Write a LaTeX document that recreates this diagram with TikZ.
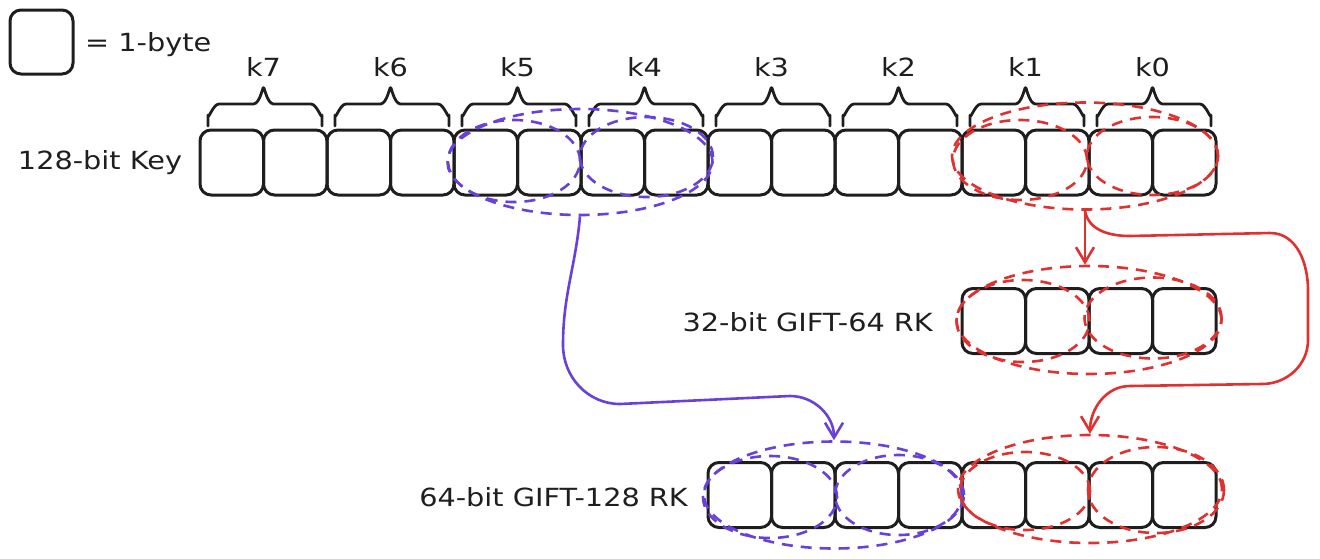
\documentclass[tikz,border=0pt]{standalone}
\usepackage{fontspec}
\setmainfont[FakeStretch=1.15]{DejaVu Sans}
\usetikzlibrary{shapes.geometric,arrows.meta}
\definecolor{ink}{HTML}{1E1E1E}
\definecolor{vio}{HTML}{6741D9}
\definecolor{rd}{HTML}{E03131}
\tikzset{
  byte/.style={draw=ink,line width=3pt,rounded corners=11pt,minimum width=63.5pt,minimum height=65pt,inner sep=0pt},
  ring/.style={ellipse,line width=2.6pt,dash pattern=on 11pt off 8pt,inner sep=0pt,draw},
  lbl/.style={text=ink,font=\fontsize{25}{30}\selectfont,inner sep=0pt},
  brc/.style={draw=ink,line width=2.8pt,line cap=round,line join=round},
  conn/.style={line width=2.6pt,-{Straight Barb[length=15pt,width=18pt,line width=2.6pt]}}
}
\begin{document}
\begin{tikzpicture}[x=1pt,y=-1pt]
\useasboundingbox (0,0) rectangle (1320,558);
% legend
\node[byte,minimum width=63pt,minimum height=64pt] (legend) at (41.5,42) {};
\node[lbl,anchor=west] (legtxt) at (85,45) {= 1-byte};
% top row
\foreach \i in {1,...,16}{
  \node[byte] (t\i) at ({200+63.5*(\i-0.5)},162.5) {};
}
\node[lbl] (keylbl) at (100,163) {128-bit Key};
% braces and labels
\foreach \j/\name in {0/k7,1/k6,2/k5,3/k4,4/k3,5/k2,6/k1,7/k0}{
  \pgfmathsetmacro{\xa}{200+127*\j+8}
  \pgfmathsetmacro{\xb}{200+127*\j+122}
  \pgfmathsetmacro{\xc}{200+127*\j+63.5}
  \draw[brc] (\xa,126) -- (\xa,115) to[out=-90,in=180] (\xa+11,104) -- (\xc-10,104) to[out=0,in=90] (\xc,89)
             to[out=90,in=180] (\xc+10,104) -- (\xb-11,104) to[out=0,in=-90] (\xb,115) -- (\xb,126);
  \node[lbl] (lab\name) at (\xc,67) {\name};
}
% middle row
\foreach \i in {1,...,4}{
  \node[byte] (m\i) at ({962+63.5*(\i-0.5)},321) {};
}
\node[lbl,anchor=east] (midlbl) at (933,322) {32-bit GIFT-64 RK};
% bottom row
\foreach \i in {1,...,8}{
  \node[byte] (b\i) at ({708+63.5*(\i-0.5)},495) {};
}
\node[lbl,anchor=east] (botlbl) at (688,497) {64-bit GIFT-128 RK};
% purple rings top
\node[ring,draw=vio,minimum width=132pt,minimum height=82pt] (pA) at (514,161) {};
\node[ring,draw=vio,minimum width=133pt,minimum height=80pt] (pB) at (646.5,157) {};
\node[ring,draw=vio,minimum width=265pt,minimum height=106pt] (pTop) at (580,162) {};
% red rings top
\node[ring,draw=rd,minimum width=134pt,minimum height=80pt] (rA) at (1020,160) {};
\node[ring,draw=rd,minimum width=131pt,minimum height=78pt] (rB) at (1152.5,156) {};
\node[ring,draw=rd,minimum width=266pt,minimum height=107pt] (rTop) at (1085,156) {};
% red rings middle
\node[ring,draw=rd,minimum width=133pt,minimum height=82pt] (rmA) at (1023,321) {};
\node[ring,draw=rd,minimum width=137pt,minimum height=81pt] (rmB) at (1153,318) {};
\node[ring,draw=rd,minimum width=265pt,minimum height=108pt] (rMid) at (1089,320) {};
% purple rings bottom
\node[ring,draw=vio,minimum width=134pt,minimum height=82pt] (pbA) at (770,497) {};
\node[ring,draw=vio,minimum width=127pt,minimum height=80pt] (pbB) at (898.5,495) {};
\node[ring,draw=vio,minimum width=260pt,minimum height=107pt] (pBot) at (834,495) {};
% red rings bottom
\node[ring,draw=rd,minimum width=130pt,minimum height=78pt] (rbA) at (1025,491) {};
\node[ring,draw=rd,minimum width=136pt,minimum height=86pt] (rbB) at (1156,490) {};
\node[ring,draw=rd,minimum width=264pt,minimum height=108pt] (rBot) at (1090,489) {};
% connectors
\draw[conn,draw=rd] (rTop.south) -- (rTop.south |- rMid.north);
\draw[conn,draw=rd] (rTop.south) to[out=-80,in=180] (1130,236) -- (1270,233) to[out=0,in=90] (1308,290)
   -- (1308,340) to[out=-90,in=0] (1262,384) -- (1130,386) to[out=180,in=90] (rBot.north);
\draw[conn,draw=vio] (pTop.south) to[out=-95,in=90] (563,345) to[out=-90,in=180] (620,404)
   -- (790,396) to[out=0,in=90] (pBot.north);
\end{tikzpicture}
\end{document}
